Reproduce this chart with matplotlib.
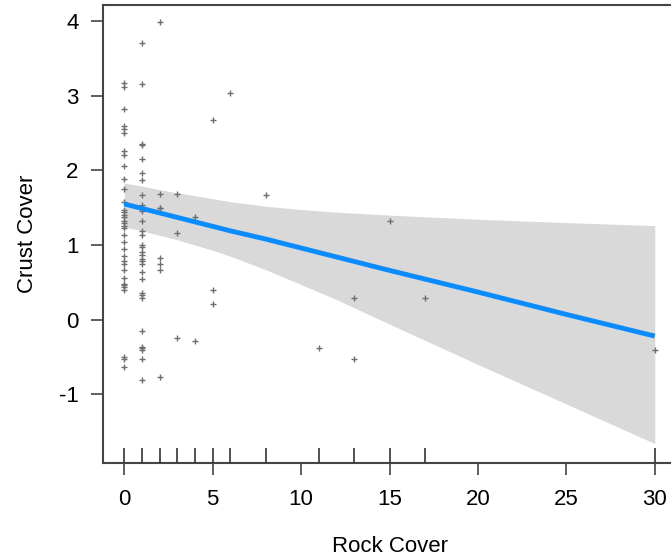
import matplotlib
matplotlib.use("Agg")
import matplotlib.pyplot as plt
import numpy as np

# partial residuals
rock_cover = ([0] * 35 + [1] * 31 + [2] * 8 + [3] * 3 + [4] * 2 + [5] * 3
              + [6, 8, 11, 13, 13, 15, 17, 30])
crust_cover = [
    # rock = 0
    3.17, 3.11, 2.82, 2.59, 2.55, 2.50, 2.26, 2.20, 2.06, 1.88, 1.75, 1.58,
    1.47, 1.44, 1.40, 1.38, 1.32, 1.29, 1.25, 1.23, 1.13, 1.04, 0.95, 0.85,
    0.78, 0.74, 0.67, 0.56, 0.48, 0.46, 0.44, 0.40, -0.50, -0.53, -0.63,
    # rock = 1
    3.70, 3.16, 2.35, 2.34, 2.15, 1.96, 1.87, 1.67, 1.53, 1.45, 1.32, 1.19,
    1.13, 1.00, 0.97, 0.91, 0.86, 0.81, 0.78, 0.75, 0.64, 0.55, 0.36, 0.33,
    0.29, -0.15, -0.36, -0.38, -0.41, -0.53, -0.81,
    # rock = 2
    3.99, 1.68, 1.50, 1.49, 0.82, 0.75, 0.66, -0.77,
    # rock = 3, 4, 5
    1.68, 1.16, -0.25,
    1.37, -0.28,
    2.68, 0.40, 0.21,
    # rock = 6 .. 30
    3.04, 1.67, -0.38, 0.29, -0.53, 1.32, 0.29, -0.40,
]

# fitted line and confidence band
fit_x = [0, 1, 2, 3, 4, 5, 6, 8, 10, 12, 15, 20, 25, 30]
fit_y = [1.55, 1.49, 1.43, 1.37, 1.31, 1.25, 1.19, 1.08, 0.96, 0.84, 0.66, 0.37, 0.07, -0.22]
band_hi = [1.83, 1.79, 1.74, 1.70, 1.66, 1.62, 1.58, 1.52, 1.475, 1.44, 1.40, 1.345, 1.30, 1.26]
band_lo = [1.24, 1.19, 1.13, 1.07, 1.00, 0.93, 0.85, 0.67, 0.47, 0.27, -0.06, -0.60, -1.13, -1.66]

x_ticks = [0, 5, 10, 15, 20, 25, 30]
y_ticks = [-1, 0, 1, 2, 3, 4]

plt.rcParams['font.family'] = ['Liberation Sans', 'DejaVu Sans']
plt.rcParams['axes.unicode_minus'] = False

fig = plt.figure(figsize=(6.71, 5.60), dpi=100)
ax = fig.add_axes([103 / 671, 1 - 463 / 560, 573 / 671, 458 / 560])

ax.fill_between(fit_x, band_lo, band_hi, color="#d9d9d9", linewidth=0, zorder=1)
ax.plot(rock_cover, crust_cover, linestyle="none", marker="+", markersize=4,
        markeredgewidth=1.0, color="#6e6e6e", zorder=2)
ax.plot(fit_x, fit_y, color="#0a8cff", linewidth=3.5, solid_capstyle="butt", zorder=3)

# rug along the bottom
rug = np.unique(rock_cover)
ax.vlines(rug, 0, 0.033, transform=ax.get_xaxis_transform(), color="#333333",
          linewidth=1.2, zorder=4)

ax.set_xlim(-1.2, 31.2)
ax.set_ylim(-1.92, 4.215)
ax.set_xticks(x_ticks)
ax.set_yticks(y_ticks)
ax.tick_params(direction="out", length=8.5, width=1.2, color="#444444",
               labelsize=16)
ax.tick_params(axis="x", pad=10)
ax.tick_params(axis="y", pad=9)
for sp in ax.spines.values():
    sp.set_color("#444444")
    sp.set_linewidth(1.5)

ax.set_xlabel("Rock Cover", fontsize=16, labelpad=19)
ax.set_ylabel("Crust Cover", fontsize=16, labelpad=15)

fig.savefig("out.png", dpi=100)
